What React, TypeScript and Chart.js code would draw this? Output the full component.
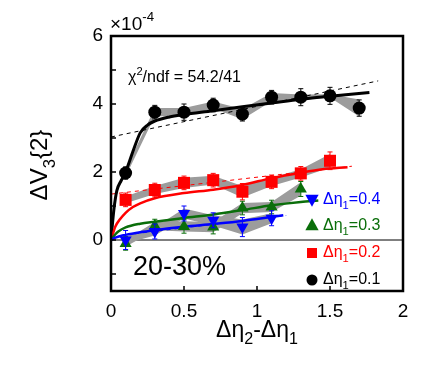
import React, { useEffect, useRef } from 'react';
import { Chart, registerables } from 'chart.js';
Chart.register(...registerables);

const FONT = '"Liberation Sans", Arial, Helvetica, sans-serif';

// axis ticks
const xTicks = [0, 0.5, 1, 1.5, 2];
const xTickLabels = ['0', '0.5', '1', '1.5', '2'];
const yTicks = [-1, 0, 1, 2, 3, 4, 5, 6];
const yTickLabels = ['', '0', '', '2', '', '4', '', '6'];

// Δη1 = 0.1 (black)
const x01 = [0.1, 0.3, 0.5, 0.7, 0.9, 1.1, 1.3, 1.5, 1.7];
const v01 = [1.97, 3.76, 3.76, 3.97, 3.7, 4.2, 4.2, 4.24, 3.88];
const sys01 = [0.1, 0.12, 0.12, 0.1, 0.15, 0.12, 0.08, 0.05, 0.25];
const err01 = [0.18, 0.2, 0.24, 0.2, 0.2, 0.2, 0.25, 0.25, 0.24];
const fitX01 = [0, 0.02, 0.04, 0.07, 0.1, 0.15, 0.2, 0.25, 0.3, 0.4, 0.5, 0.7, 0.9, 1.1, 1.3, 1.5, 1.77];
const fitY01 = [0, 0.9, 1.45, 1.75, 2.0, 2.6, 3.15, 3.38, 3.5, 3.62, 3.69, 3.8, 3.92, 4.03, 4.14, 4.23, 4.34];
const linX01 = [0, 1.83];
const linY01 = [3.03, 4.68];

// Δη1 = 0.2 (red)
const x02 = [0.1, 0.3, 0.5, 0.7, 0.9, 1.1, 1.3, 1.5];
const v02 = [1.18, 1.47, 1.68, 1.76, 1.42, 1.71, 1.96, 2.33];
const sys02 = [0.1, 0.12, 0.15, 0.13, 0.17, 0.12, 0.12, 0.2];
const err02 = [0.2, 0.2, 0.2, 0.2, 0.24, 0.2, 0.2, 0.26];
const fitX02 = [0, 0.03, 0.06, 0.1, 0.15, 0.2, 0.3, 0.5, 0.7, 0.9, 1.1, 1.3, 1.45, 1.62];
const fitY02 = [0, 0.4, 0.6, 0.8, 0.97, 1.08, 1.23, 1.38, 1.48, 1.62, 1.82, 1.98, 2.08, 2.14];
const linX02 = [0, 1.65];
const linY02 = [1.35, 2.17];

// Δη1 = 0.3 (green)
const x03 = [0.1, 0.3, 0.5, 0.7, 0.9, 1.1, 1.3];
const v03 = [-0.1, 0.41, 0.4, 0.38, 0.94, 0.97, 1.5];
const sys03 = [0.1, 0.12, 0.15, 0.15, 0.15, 0.15, 0.2];
const err03 = [0.2, 0.2, 0.2, 0.2, 0.2, 0.2, 0.22];
const fitX03 = [0, 0.03, 0.05, 0.1, 0.2, 0.3, 0.5, 0.7, 0.9, 1.1, 1.3, 1.42];
const fitY03 = [0, 0.17, 0.25, 0.37, 0.48, 0.54, 0.65, 0.75, 0.88, 1.02, 1.12, 1.16];

// Δη1 = 0.4 (blue)
const x04 = [0.1, 0.3, 0.5, 0.7, 0.9, 1.1];
const v04 = [0.0, 0.25, 0.78, 0.58, 0.38, 0.64];
const sys04 = [0.1, 0.12, 0.15, 0.15, 0.22, 0.15];
const err04 = [0.28, 0.22, 0.22, 0.22, 0.28, 0.22];
const fitX04 = [0, 0.03, 0.1, 0.2, 0.3, 0.5, 0.7, 0.9, 1.0, 1.18];
const fitY04 = [0, 0.07, 0.15, 0.23, 0.29, 0.39, 0.47, 0.56, 0.62, 0.73];
const linX04 = [0, 1.2];
const linY04 = [0.1, 0.72];

const BLACK = '#000000';
const RED = '#ff0000';
const GREEN = '#0a6e0a';
const BLUE = '#0000ff';
const GRAY = '#9c9c9c';

const legendItems = [
  { label: '0.4', color: BLUE, style: 'triangle', rot: 180 },
  { label: '0.3', color: GREEN, style: 'triangle', rot: 0 },
  { label: '0.2', color: RED, style: 'rect', rot: 0 },
  { label: '0.1', color: BLACK, style: 'circle', rot: 0 },
];

const pts = (xs: number[], ys: number[]) => xs.map((x, i) => ({ x, y: ys[i] }));

function series(xs: number[], ys: number[], sys: number[], errs: number[], fx: number[], fy: number[], color: string, style: string, rot: number, radius: number, lin?: [number[], number[]]) {
  const ds: any[] = [
    { data: pts(xs, ys.map((v, i) => v + sys[i])), borderWidth: 0, pointRadius: 0, fill: false, tension: 0, order: 40 },
    { data: pts(xs, ys.map((v, i) => v - sys[i])), borderWidth: 0, pointRadius: 0, fill: '-1', backgroundColor: GRAY, tension: 0, order: 40 },
    { data: pts(fx, fy), borderColor: color, borderWidth: color === BLACK ? 3 : 2.5, pointRadius: 0, fill: false, cubicInterpolationMode: 'monotone', order: 20 },
    { data: pts(xs, ys), showLine: false, pointStyle: style, rotation: rot, pointRadius: radius, backgroundColor: color, borderColor: color, borderWidth: 0, order: 10, errs },
  ];
  if (lin) {
    ds.push({ data: pts(lin[0], lin[1]), borderColor: color, borderWidth: 1, borderDash: [4, 4], pointRadius: 0, fill: false, order: 25 });
  }
  return ds;
}

type Part = { t: string; k?: 'sub' | 'sup' };
function drawRich(ctx: CanvasRenderingContext2D, parts: Part[], x: number, y: number, size: number, color: string, align: 'left' | 'center' = 'left') {
  const small = size * 0.7;
  const f = (s: number) => `${s}px ${FONT}`;
  let w = 0;
  const ws = parts.map((p) => {
    ctx.font = f(p.k ? small : size);
    const m = ctx.measureText(p.t).width;
    w += m;
    return m;
  });
  let cx = align === 'center' ? x - w / 2 : x;
  ctx.fillStyle = color;
  ctx.textBaseline = 'alphabetic';
  ctx.textAlign = 'left';
  parts.forEach((p, i) => {
    ctx.font = f(p.k ? small : size);
    const dy = p.k === 'sub' ? size * 0.32 : p.k === 'sup' ? -size * 0.45 : 0;
    ctx.fillText(p.t, cx, y + dy);
    cx += ws[i];
  });
}

function drawMarker(ctx: CanvasRenderingContext2D, style: string, rot: number, x: number, y: number, r: number, color: string) {
  ctx.save();
  ctx.fillStyle = color;
  ctx.translate(x, y);
  ctx.rotate((rot * Math.PI) / 180);
  ctx.beginPath();
  if (style === 'circle') ctx.arc(0, 0, r, 0, Math.PI * 2);
  else if (style === 'rect') ctx.rect(-r, -r, 2 * r, 2 * r);
  else {
    ctx.moveTo(0, -r * 1.1);
    ctx.lineTo(r * 0.95, r * 0.6);
    ctx.lineTo(-r * 0.95, r * 0.6);
    ctx.closePath();
  }
  ctx.fill();
  ctx.restore();
}

const deco = {
  id: 'deco',
  beforeDatasetsDraw(chart: any) {
    const { ctx, chartArea: a, scales } = chart;
    const y0 = scales.y.getPixelForValue(0);
    ctx.save();
    ctx.strokeStyle = '#000';
    ctx.lineWidth = 1;
    ctx.beginPath();
    ctx.moveTo(a.left, y0);
    ctx.lineTo(a.right, y0);
    ctx.stroke();
    ctx.restore();
  },
  beforeDatasetDraw(chart: any, args: any) {
    const ds = chart.data.datasets[args.index];
    if (!ds.errs) return;
    const { ctx, scales } = chart;
    ctx.save();
    ctx.strokeStyle = ds.borderColor;
    ctx.lineWidth = 1;
    ds.data.forEach((p: any, i: number) => {
      const px = scales.x.getPixelForValue(p.x);
      const yt = scales.y.getPixelForValue(p.y + ds.errs[i]);
      const yb = scales.y.getPixelForValue(p.y - ds.errs[i]);
      ctx.beginPath();
      ctx.moveTo(px, yt);
      ctx.lineTo(px, yb);
      ctx.moveTo(px - 2.5, yt);
      ctx.lineTo(px + 2.5, yt);
      ctx.moveTo(px - 2.5, yb);
      ctx.lineTo(px + 2.5, yb);
      ctx.stroke();
    });
    ctx.restore();
  },
  afterDraw(chart: any) {
    const { ctx, chartArea: a, scales } = chart;
    ctx.save();
    // ticks
    ctx.strokeStyle = '#000';
    ctx.lineWidth = 1.5;
    ctx.beginPath();
    yTicks.forEach((v) => {
      const py = scales.y.getPixelForValue(v);
      ctx.moveTo(a.left, py);
      ctx.lineTo(a.left + 5, py);
    });
    xTicks.forEach((v) => {
      const px = scales.x.getPixelForValue(v);
      ctx.moveTo(px, a.bottom);
      ctx.lineTo(px, a.bottom - 5);
    });
    ctx.stroke();
    // frame
    ctx.lineWidth = 2.5;
    ctx.strokeRect(a.left, a.top, a.right - a.left, a.bottom - a.top);

    // axis titles
    drawRich(ctx, [{ t: 'Δη' }, { t: '2', k: 'sub' }, { t: '-Δη' }, { t: '1', k: 'sub' }], (a.left + a.right) / 2, 337, 23, '#000', 'center');
    ctx.save();
    ctx.translate(47, 165);
    ctx.rotate(-Math.PI / 2);
    drawRich(ctx, [{ t: 'ΔV' }, { t: '3', k: 'sub' }, { t: '{2}' }], 0, 0, 24, '#000', 'center');
    ctx.restore();

    // exponent
    drawRich(ctx, [{ t: '×10' }, { t: '-4', k: 'sup' }], 110, 30, 19, '#000');
    // chi2
    drawRich(ctx, [{ t: 'χ' }, { t: '2', k: 'sup' }, { t: '/ndf = 54.2/41' }], 128, 82, 16, '#000');
    // centrality
    drawRich(ctx, [{ t: '20-30%' }], 133, 275, 27, '#000');
    // legend
    const rowsY = [199, 226, 253, 280];
    const baseY = [204, 230, 257, 284];
    legendItems.forEach((it, i) => {
      drawMarker(ctx, it.style, it.rot, 312, rowsY[i], it.style === 'rect' ? 5 : it.style === 'circle' ? 5.5 : 7, it.color);
      drawRich(ctx, [{ t: 'Δη' }, { t: '1', k: 'sub' }, { t: '=' + it.label }], 323, baseY[i], 16, it.color);
    });
    ctx.restore();
  },
};

export default function App() {
  const ref = useRef<HTMLCanvasElement>(null);
  useEffect(() => {
    if (!ref.current) return;
    Chart.defaults.font.family = FONT;
    const datasets = [
      ...series(x04, v04, sys04, err04, fitX04, fitY04, BLUE, 'triangle', 180, 7, [linX04, linY04]),
      ...series(x03, v03, sys03, err03, fitX03, fitY03, GREEN, 'triangle', 0, 7),
      ...series(x02, v02, sys02, err02, fitX02, fitY02, RED, 'rect', 0, 8.5, [linX02, linY02]),
      ...series(x01, v01, sys01, err01, fitX01, fitY01, BLACK, 'circle', 0, 6.5, [linX01, linY01]),
    ];
    const chart = new Chart(ref.current, {
      type: 'line',
      data: { datasets },
      plugins: [deco],
      options: {
        responsive: false,
        animation: false,
        events: [],
        layout: { padding: { top: 36, right: 43, left: 0, bottom: 0 } },
        plugins: { legend: { display: false }, tooltip: { enabled: false } },
        scales: {
          x: {
            type: 'linear',
            min: 0,
            max: 2,
            afterBuildTicks: (s: any) => { s.ticks = xTicks.map((v) => ({ value: v })); },
            afterFit: (s: any) => { s.height = 83; },
            grid: { display: false, drawTicks: false },
            border: { display: false },
            ticks: { padding: 9, color: '#000', font: { size: 19 }, callback: (_v: any, i: number) => xTickLabels[i] },
          },
          y: {
            type: 'linear',
            min: -1.5,
            max: 6,
            afterBuildTicks: (s: any) => { s.ticks = yTicks.map((v) => ({ value: v })); },
            afterFit: (s: any) => { s.width = 111; },
            grid: { display: false, drawTicks: false },
            border: { display: false },
            ticks: { padding: 8, color: '#000', font: { size: 19 }, callback: (_v: any, i: number) => yTickLabels[i] },
          },
        },
      } as any,
    });
    return () => chart.destroy();
  }, []);
  return (
    <div style={{ position: 'absolute', left: 0, top: 0, width: 446, height: 374, background: '#fff' }}>
      <canvas ref={ref} width={446} height={374} style={{ width: 446, height: 374 }} />
    </div>
  );
}
